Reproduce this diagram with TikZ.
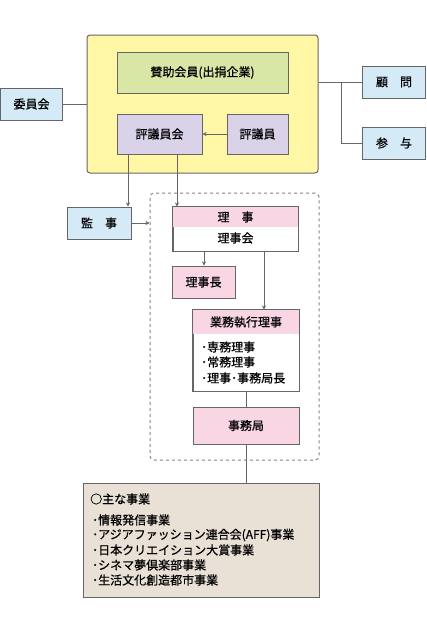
\documentclass[tikz,border=0pt]{standalone}
\usepackage{fontspec}
\setmainfont{Noto Sans CJK JP}[FakeBold=0.6]
\usetikzlibrary{arrows.meta,calc}
\definecolor{cyellow}{HTML}{FFF7A6}
\definecolor{cgreen}{HTML}{D8E6A6}
\definecolor{clav}{HTML}{D9D2E8}
\definecolor{cblue}{HTML}{D4EAF6}
\definecolor{cpink}{HTML}{F8D6E4}
\definecolor{cbeige}{HTML}{E9E0D6}
\definecolor{cline}{HTML}{666666}
\tikzset{
  box/.style={draw=cline, line width=1pt, inner sep=0pt, font=\fontsize{12}{14}\selectfont},
  conn/.style={draw=cline, line width=1pt},
  arr/.style={conn, -{Stealth[length=4pt,width=4pt]}},
  txt/.style={inner sep=0pt, font=\fontsize{12}{14}\selectfont},
}
\begin{document}
\begin{tikzpicture}[x=1pt,y=-1pt]
\useasboundingbox[fill=white] (0,0) rectangle (426,640);
% outer yellow
\node[box, fill=cyellow, rounded corners=3pt, minimum width=231pt, minimum height=138pt] (yel) at (202.5,104) {};
\node[box, fill=cgreen, minimum width=171pt, minimum height=41pt] (san) at (202.5,72.5) {賛助会員(出捐企業)};
\node[box, fill=cblue, minimum width=62pt, minimum height=32pt] (iin) at (31.5,104) {委員会};
\node[box, fill=clav, minimum width=85pt, minimum height=40pt] (hgk) at (159.5,134) {評議員会};
\node[box, fill=clav, minimum width=61pt, minimum height=40pt] (hgi) at (257.5,134) {評議員};
\node[box, fill=cblue, minimum width=63pt, minimum height=32pt] (kom) at (394,82) {顧　問};
\node[box, fill=cblue, minimum width=63pt, minimum height=32pt] (sany) at (394,143) {参　与};
\node[box, fill=cblue, minimum width=64pt, minimum height=32pt] (kan) at (99,223) {監　事};
% dashed group
\node[draw=cline!80, dashed, line width=1pt, rounded corners=4pt, minimum width=169pt, minimum height=267pt, inner sep=0pt] (grp) at (234.5,326.5) {};
% riji box
\node[box, fill=white, minimum width=125pt, minimum height=44pt] (rj) at (235.5,229) {};
\fill[cpink] ([xshift=0.5pt,yshift=-0.5pt]rj.north west) rectangle ([xshift=-0.5pt,yshift=-20pt]rj.north east);
\draw[cline, line width=1pt] (rj.north west) rectangle (rj.south east);
\node[txt] (rjh) at (235.5,217) {理　事};
\node[txt] (rjk) at (235.5,238) {理事会};
\node[box, fill=cpink, minimum width=63pt, minimum height=32pt] (rjc) at (203.5,282) {理事長};
% gyomu box
\node[box, fill=white, minimum width=106pt, minimum height=81pt] (gy) at (246,350.5) {};
\fill[cpink] ([xshift=0.5pt,yshift=-0.5pt]gy.north west) rectangle ([xshift=-0.5pt,yshift=-24pt]gy.north east);
\draw[cline, line width=1pt] (gy.north west) rectangle (gy.south east);
\node[txt] (gyh) at (246,322) {業務執行理事};
\node[txt, anchor=west] (g1) at (201,347) {･専務理事};
\node[txt, anchor=west] (g2) at (201,362) {･常務理事};
\node[txt, anchor=west] (g3) at (201,378) {･理事･事務局長};
\node[box, fill=cpink, minimum width=106pt, minimum height=37pt] (jmk) at (246,425.5) {事務局};
% bottom box
\node[box, fill=cbeige, minimum width=236pt, minimum height=114pt] (bot) at (201,540) {};
\node[txt, anchor=west] (b0) at (90,499) {○主な事業};
\node[txt, anchor=west] (b1) at (92,520) {･情報発信事業};
\node[txt, anchor=west] (b2) at (92,535) {･アジアファッション連合会(AFF)事業};
\node[txt, anchor=west] (b3) at (92,550) {･日本クリエイション大賞事業};
\node[txt, anchor=west] (b4) at (92,565) {･シネマ夢倶楽部事業};
\node[txt, anchor=west] (b5) at (92,580) {･生活文化創造都市事業};
% connectors
\draw[conn] (iin.east) -- (yel.west);
\coordinate (br) at (341,82);
\draw[conn] (yel.east |- br) -- (kom.west);
\draw[conn] (br) |- (sany.west);
\draw[arr] (hgi.west) -- (hgk.east);
\draw[arr] (hgk.south -| 128,0) -- (kan.north -| 128,0);
\draw[arr] (hgk.south -| 177,0) -- (rj.north -| 177,0);
\draw[arr] (kan.east) -- (grp.west |- kan.east);
\draw[arr] (rj.south -| 204,0) -- (rjc.north -| 204,0);
\draw[arr] (rj.south -| 264,0) -- (gy.north -| 264,0);
\draw[conn] (gy.south) -- (jmk.north);
\draw[conn] (jmk.south) -- (bot.north -| jmk.south);
\end{tikzpicture}
\end{document}
